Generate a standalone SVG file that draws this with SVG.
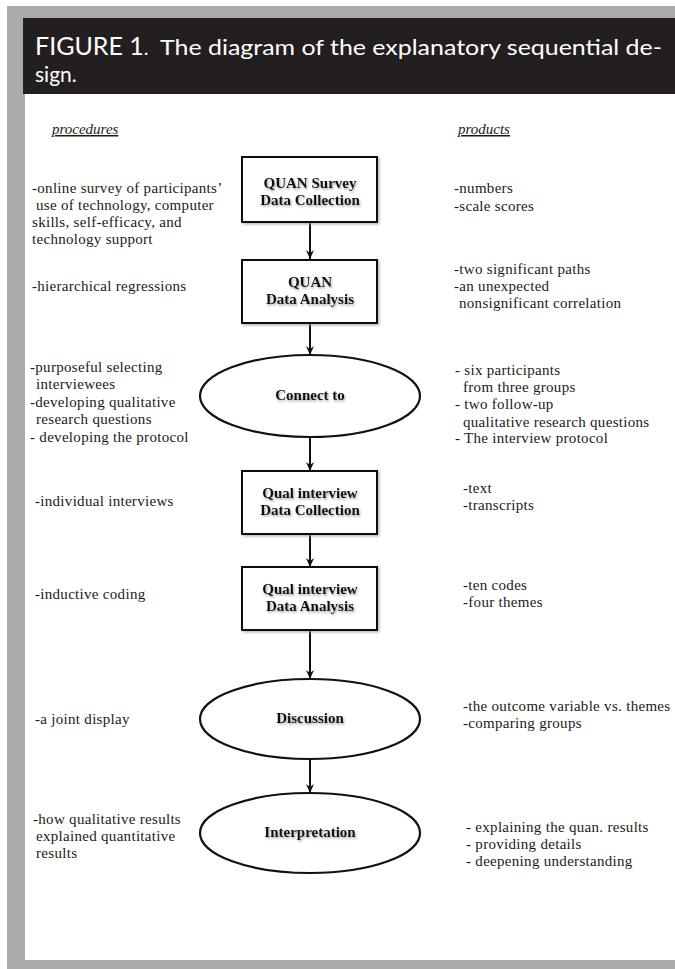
<svg xmlns="http://www.w3.org/2000/svg" width="675" height="969" viewBox="0 0 675 969">
<defs>
<style>
.hd{font-family:Lato,"Open Sans","Noto Sans",sans-serif;fill:#ffffff}
.t{font-family:"Liberation Serif","Times New Roman",serif;font-size:15px;letter-spacing:0.3px;fill:#1a1a1a}
.h{font-family:"Liberation Serif","Times New Roman",serif;font-size:15px;font-style:italic;text-decoration:underline;fill:#1a1a1a}
.n{font-family:"Liberation Serif","Times New Roman",serif;font-size:15px;font-weight:bold;fill:#111;text-anchor:middle;filter:url(#ts)}
.box{fill:#ffffff;stroke:#111;stroke-width:2;filter:url(#bs)}
.ell{fill:#ffffff;stroke:#111;stroke-width:2.2}
.c{stroke:#111;stroke-width:2;fill:none;marker-end:url(#ah)}
</style>
<filter id="ts" x="-10%" y="-30%" width="120%" height="160%">
<feDropShadow dx="1" dy="1.5" stdDeviation="0.8" flood-color="#777" flood-opacity="0.7"/>
</filter>
<filter id="bs" x="-5%" y="-5%" width="115%" height="115%">
<feDropShadow dx="1.5" dy="1.5" stdDeviation="1" flood-color="#999" flood-opacity="0.7"/>
</filter>
<marker id="ah" viewBox="0 0 10 10" refX="9" refY="5" markerWidth="10" markerHeight="10" markerUnits="userSpaceOnUse" orient="auto">
<path d="M0,1 L9,5 L0,9 L3,5 Z" fill="#111"/>
</marker>
</defs>

<rect x="0" y="0" width="675" height="969" fill="#ffffff"/>
<rect x="7" y="6" width="668" height="963" fill="#ababab"/>
<rect x="23" y="18" width="652" height="76" fill="#231f20"/>
<rect x="25" y="94" width="650" height="866" fill="#ffffff"/>

<g id="header">
<text class="hd" x="35" y="55" font-size="25">FIGURE 1<tspan font-size="20">.</tspan></text>
<text class="hd" x="160" y="55" font-size="21" textLength="502" lengthAdjust="spacingAndGlyphs">The diagram of the explanatory sequential de-</text>
<text class="hd" x="35" y="82" font-size="21">sign.</text>
</g>

<g id="col-headers">
<text class="h" x="52" y="134">procedures</text>
<text class="h" x="458" y="134">products</text>
</g>

<g id="connectors">
<line class="c" x1="310" y1="222" x2="310" y2="259"/>
<line class="c" x1="310" y1="323" x2="310" y2="355"/>
<line class="c" x1="310" y1="437" x2="310" y2="471"/>
<line class="c" x1="310" y1="534" x2="310" y2="567"/>
<line class="c" x1="310" y1="630" x2="310" y2="679"/>
<line class="c" x1="310" y1="759" x2="310" y2="793"/>
</g>

<g id="n1">
<rect class="box" x="242" y="157" width="135" height="65"/>
<text class="n" x="310" y="188">QUAN Survey</text>
<text class="n" x="310" y="205">Data Collection</text>
</g>
<g id="n2">
<rect class="box" x="242" y="260" width="135" height="63"/>
<text class="n" x="310" y="287">QUAN</text>
<text class="n" x="310" y="304">Data Analysis</text>
</g>
<g id="n3">
<ellipse class="ell" cx="310" cy="396" rx="110" ry="41"/>
<text class="n" x="310" y="400">Connect to</text>
</g>
<g id="n4">
<rect class="box" x="242" y="471" width="135" height="63"/>
<text class="n" x="310" y="498">Qual interview</text>
<text class="n" x="310" y="515">Data Collection</text>
</g>
<g id="n5">
<rect class="box" x="242" y="567" width="135" height="63"/>
<text class="n" x="310" y="594">Qual interview</text>
<text class="n" x="310" y="611">Data Analysis</text>
</g>
<g id="n6">
<ellipse class="ell" cx="310" cy="719" rx="110" ry="40"/>
<text class="n" x="310" y="723">Discussion</text>
</g>
<g id="n7">
<ellipse class="ell" cx="310" cy="833" rx="110" ry="40"/>
<text class="n" x="310" y="837">Interpretation</text>
</g>

<g id="procedures">
<text class="t" x="32" y="193">-online survey of participants’</text>
<text class="t" x="36" y="210">use of technology, computer</text>
<text class="t" x="32" y="227">skills, self-efficacy, and</text>
<text class="t" x="32" y="244">technology support</text>
<text class="t" x="32" y="291">-hierarchical regressions</text>
<text class="t" x="30" y="372">-purposeful selecting</text>
<text class="t" x="36" y="389">interviewees</text>
<text class="t" x="30" y="407">-developing qualitative</text>
<text class="t" x="36" y="424">research questions</text>
<text class="t" x="30" y="442">- developing the protocol</text>
<text class="t" x="35" y="506">-individual interviews</text>
<text class="t" x="35" y="599">-inductive coding</text>
<text class="t" x="35" y="724">-a joint display</text>
<text class="t" x="33" y="824">-how qualitative results</text>
<text class="t" x="36" y="841">explained quantitative</text>
<text class="t" x="36" y="858">results</text>
</g>

<g id="products">
<text class="t" x="454" y="193">-numbers</text>
<text class="t" x="454" y="211">-scale scores</text>
<text class="t" x="454" y="274">-two significant paths</text>
<text class="t" x="454" y="291">-an unexpected</text>
<text class="t" x="459" y="308">nonsignificant correlation</text>
<text class="t" x="455" y="375">- six participants</text>
<text class="t" x="463" y="392">from three groups</text>
<text class="t" x="455" y="409">- two follow-up</text>
<text class="t" x="463" y="427">qualitative research questions</text>
<text class="t" x="455" y="443">- The interview protocol</text>
<text class="t" x="463" y="493">-text</text>
<text class="t" x="463" y="510">-transcripts</text>
<text class="t" x="463" y="590">-ten codes</text>
<text class="t" x="463" y="607">-four themes</text>
<text class="t" x="463" y="711">-the outcome variable vs. themes</text>
<text class="t" x="463" y="728">-comparing groups</text>
<text class="t" x="466" y="832">- explaining the quan. results</text>
<text class="t" x="466" y="849">- providing details</text>
<text class="t" x="466" y="866">- deepening understanding</text>
</g>
</svg>
